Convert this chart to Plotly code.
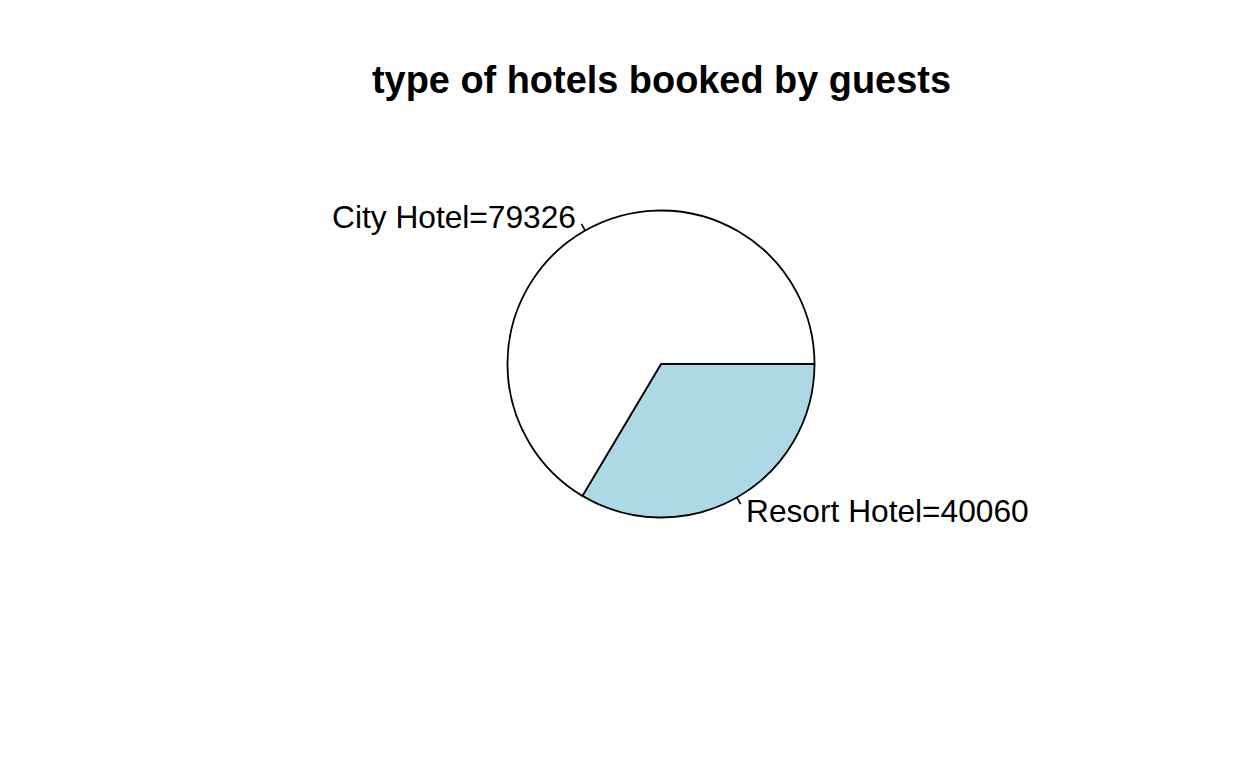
import math
import plotly.graph_objects as go

# ---- data ----
hotel_types = ["City Hotel", "Resort Hotel"]
bookings = [79326, 40060]
slice_colors = ["white", "lightblue"]
chart_title = "type of hotels booked by guests"

# ---- layout constants (pixels) ----
W, H = 1248, 768
CX, CY, RAD = 661.0, 364.0, 153.5
FONT = "Liberation Sans, Arial, sans-serif"

total = sum(bookings)

# Plotly draws clockwise from 3 o'clock; R draws counterclockwise from 3 o'clock,
# so feed the slices in reverse order to reproduce the same geometry.
fig = go.Figure(
    go.Pie(
        labels=hotel_types[::-1],
        values=bookings[::-1],
        marker=dict(colors=slice_colors[::-1], line=dict(color="black", width=1.8)),
        sort=False,
        direction="clockwise",
        rotation=90,
        textinfo="none",
        hoverinfo="label+value",
        showlegend=False,
        domain=dict(
            x=[(CX - RAD) / W, (CX + RAD) / W],
            y=[1 - (CY + RAD) / H, 1 - (CY - RAD) / H],
        ),
    )
)

annotations = []
shapes = []
cum = 0.0
for name, val in zip(hotel_types, bookings):
    mid = 2 * math.pi * (cum + val / 2) / total
    cum += val
    c, s = math.cos(mid), math.sin(mid)
    # leader line from r to 1.05 r
    x0, y0 = CX + RAD * c, CY - RAD * s
    x1, y1 = CX + 1.05 * RAD * c, CY - 1.05 * RAD * s
    shapes.append(dict(type="line", xref="paper", yref="paper",
                       x0=x0 / W, y0=1 - y0 / H, x1=x1 / W, y1=1 - y1 / H,
                       line=dict(color="black", width=1.6)))
    tx, ty = CX + 1.1 * RAD * c, CY - 1.1 * RAD * s
    annotations.append(dict(
        x=tx / W, y=1 - ty / H, xref="paper", yref="paper",
        text=f"{name}={val}", showarrow=False,
        xanchor="right" if c < 0 else "left", yanchor="middle",
        font=dict(family=FONT, size=31.7, color="black"),
    ))

annotations.append(dict(
    x=CX / W, y=1 - 80 / H, xref="paper", yref="paper",
    text=f"<b>{chart_title}</b>", showarrow=False,
    xanchor="center", yanchor="middle",
    font=dict(family=FONT, size=37.9, color="black"),
))

fig.update_layout(
    width=W, height=H,
    margin=dict(l=0, r=0, t=0, b=0),
    paper_bgcolor="white", plot_bgcolor="white",
    annotations=annotations, shapes=shapes,
)

fig.write_html("out.html")
